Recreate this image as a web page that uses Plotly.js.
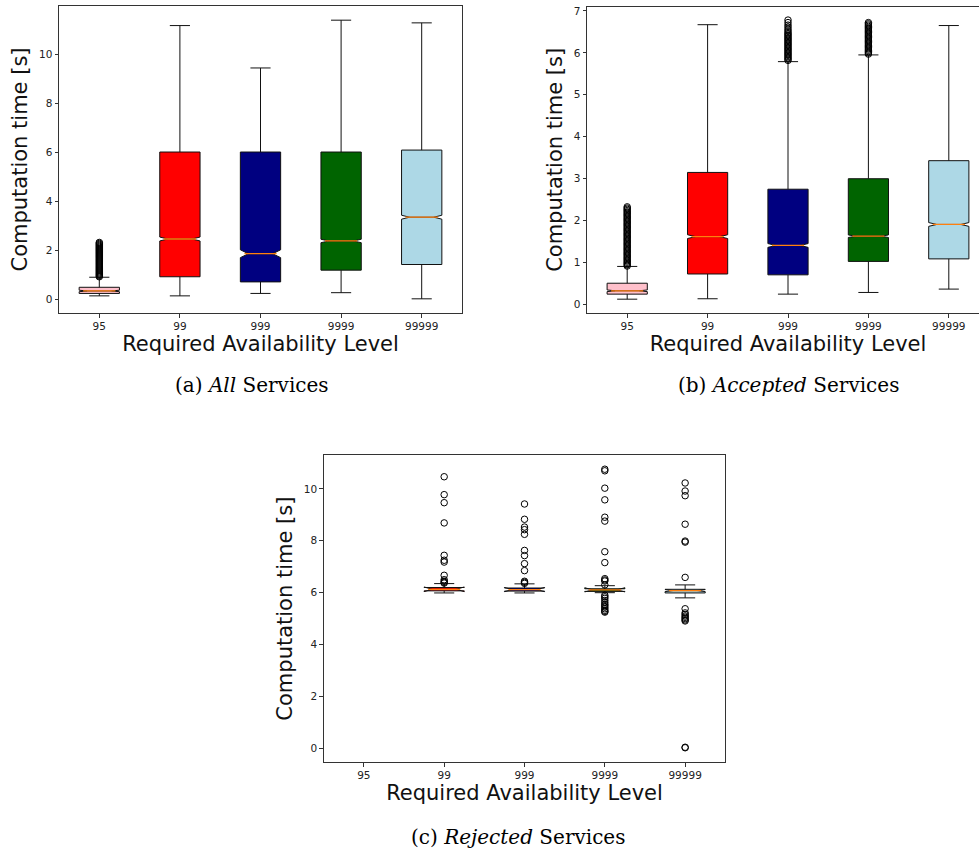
<!DOCTYPE html>
<html><head><meta charset="utf-8">
<script src="https://cdn.plot.ly/plotly-3.0.1.min.js"></script>
<style>html,body{margin:0;padding:0;overflow:hidden;background:#fff;} #chart{width:1000px;height:852px;}</style>
</head><body><div id="chart"></div><script>
// ---- categories ----
const levels = ['95', '99', '999', '9999', '99999'];
const boxColors = ['pink', 'red', 'navy', 'darkgreen', 'lightblue'];

// ---- (a) All services ----
const allLowerFence = [0.15, 0.15, 0.25, 0.28, 0.03];
const allQ1         = [0.25, 0.93, 0.72, 1.20, 1.43];
const allMedian     = [0.35, 2.47, 1.87, 2.39, 3.36];
const allQ3         = [0.50, 6.02, 6.02, 6.02, 6.10];
const allUpperFence = [0.91, 11.18, 9.45, 11.40, 11.29];
const allNotch      = [0.03, 0.08, 0.16, 0.07, 0.08];
const allOut95 = [0.93,0.97,1.01,1.05,1.09,1.13,1.17,1.21,1.25,1.29,1.33,1.37,1.41,1.45,1.49,1.53,1.57,1.61,1.65,1.69,1.73,1.77,1.81,1.85,1.89,1.93,1.97,2.01,2.05,2.09,2.13,2.17,2.21,2.25,2.29,2.33];

// ---- (b) Accepted services ----
const accLowerFence = [0.13, 0.14, 0.25, 0.29, 0.37];
const accQ1         = [0.25, 0.73, 0.71, 1.03, 1.09];
const accMedian     = [0.33, 1.62, 1.41, 1.63, 1.91];
const accQ3         = [0.51, 3.15, 2.75, 3.00, 3.43];
const accUpperFence = [0.91, 6.67, 5.79, 5.95, 6.65];
const accNotch      = [0.02, 0.045, 0.045, 0.03, 0.045];
const accOut95 = [0.92,0.95,0.98,1.01,1.04,1.07,1.10,1.13,1.16,1.19,1.22,1.25,1.28,1.31,1.34,1.37,1.40,1.43,1.46,1.49,1.52,1.55,1.58,1.61,1.64,1.67,1.70,1.73,1.76,1.79,1.82,1.85,1.88,1.91,1.94,1.97,2.00,2.03,2.06,2.09,2.12,2.15,2.18,2.21,2.24,2.27,2.30,2.33];
const accOut999 = [5.82,5.85,5.88,5.91,5.94,5.97,6.00,6.03,6.06,6.09,6.12,6.15,6.18,6.21,6.24,6.27,6.30,6.33,6.36,6.39,6.42,6.45,6.48,6.52,6.56,6.61,6.66,6.72,6.78];
const accOut9999 = [5.97,6.00,6.03,6.06,6.09,6.12,6.15,6.18,6.21,6.24,6.27,6.30,6.33,6.36,6.39,6.42,6.45,6.48,6.51,6.54,6.57,6.60,6.63,6.66,6.69,6.72];

// ---- (c) Rejected services (no 95 data) ----
const rejLevels     = ['99', '999', '9999', '99999'];
const rejColors     = ['red', 'navy', 'darkgreen', 'lightblue'];
const rejLowerFence = [5.99, 5.99, 6.00, 5.80];
const rejQ1         = [6.07, 6.06, 6.05, 5.99];
const rejMedian     = [6.13, 6.12, 6.11, 6.08];
const rejQ3         = [6.20, 6.18, 6.15, 6.13];
const rejUpperFence = [6.35, 6.34, 6.27, 6.30];
const rejNotch      = [0.09, 0.08, 0.08, 0.04];
const rejOut99 = [10.47, 9.78, 9.47, 8.69, 7.44, 7.25, 7.18, 6.67, 6.50, 6.44, 6.40, 6.37];
const rejOut999 = [9.42, 8.83, 8.53, 8.43, 8.25, 7.63, 7.43, 7.12, 6.85, 6.44, 6.40, 6.36];
const rejOut9999 = [10.76, 10.70, 10.03, 9.58, 8.91, 8.76, 7.58, 7.16, 6.54, 6.49, 6.45, 6.30, 5.90, 5.84, 5.78, 5.70, 5.62, 5.55, 5.50, 5.44, 5.38, 5.32, 5.28, 5.25];
const rejOut99999 = [10.23, 9.92, 9.74, 8.64, 7.99, 7.95, 6.59, 5.38, 5.22, 5.16, 5.10, 5.05, 5.00, 4.95, 4.91, 0.04, 0.02];

// ---- text ----
const yTitle = 'Computation time [s]';
const xTitle = 'Required Availability Level';
const captions = ['(a) <i>All</i> Services', '(b) <i>Accepted</i> Services', '(c) <i>Rejected</i> Services'];

const BOXW = 0.5, NOTCHW = 0.2, ORANGE = '#ff7f0e';
const traces = [];

function addBoxes(xa, ya, cats, cols, lf, q1, med, q3, uf, notch) {
  cats.forEach((c, i) => {
    traces.push({
      type: 'box', xaxis: xa, yaxis: ya, x: [c],
      lowerfence: [lf[i]], q1: [q1[i]], median: [med[i]], q3: [q3[i]], upperfence: [uf[i]],
      notched: true, notchspan: [notch[i]], notchwidth: NOTCHW,
      width: BOXW, whiskerwidth: 0.5,
      fillcolor: cols[i], line: {color: '#111', width: 1},
      boxpoints: false, showlegend: false, hoverinfo: 'skip'
    });
    // orange median line
    traces.push({
      type: 'box', xaxis: xa, yaxis: ya, x: [c],
      lowerfence: [med[i]], q1: [med[i]], median: [med[i]], q3: [med[i]], upperfence: [med[i]],
      width: BOXW * (1 - NOTCHW), whiskerwidth: 0,
      fillcolor: 'rgba(0,0,0,0)', line: {color: ORANGE, width: 1.3},
      boxpoints: false, showlegend: false, hoverinfo: 'skip'
    });
  });
}
function addFliers(xa, ya, cat, vals) {
  traces.push({
    type: 'scatter', mode: 'markers', xaxis: xa, yaxis: ya,
    x: vals.map(() => cat), y: vals,
    marker: {symbol: 'circle-open', size: 6.5, color: '#000', line: {width: 1}},
    showlegend: false, hoverinfo: 'skip', cliponaxis: false
  });
}

addBoxes('x', 'y', levels, boxColors, allLowerFence, allQ1, allMedian, allQ3, allUpperFence, allNotch);
addFliers('x', 'y', '95', allOut95);

addBoxes('x2', 'y2', levels, boxColors, accLowerFence, accQ1, accMedian, accQ3, accUpperFence, accNotch);
addFliers('x2', 'y2', '95', accOut95);
addFliers('x2', 'y2', '999', accOut999);
addFliers('x2', 'y2', '9999', accOut9999);

addBoxes('x3', 'y3', rejLevels, rejColors, rejLowerFence, rejQ1, rejMedian, rejQ3, rejUpperFence, rejNotch);
addFliers('x3', 'y3', '99', rejOut99);
addFliers('x3', 'y3', '999', rejOut999);
addFliers('x3', 'y3', '9999', rejOut9999);
addFliers('x3', 'y3', '99999', rejOut99999);

const tickFont = {family: 'DejaVu Sans', size: 10.5, color: '#222'};
const titleFont = {family: 'DejaVu Sans', size: 21, color: '#111'};
function xAxis(domain, anchor) {
  return {
    domain: domain, anchor: anchor, type: 'category',
    categoryorder: 'array', categoryarray: levels, range: [-0.5, 4.5],
    showline: true, mirror: true, linecolor: '#333', linewidth: 1,
    ticks: 'outside', ticklen: 3.5, tickcolor: '#333', tickfont: tickFont,
    showgrid: false, zeroline: false, fixedrange: true,
    title: {text: xTitle, font: titleFont, standoff: 4}
  };
}
function yAxis(domain, anchor, range, tickvals) {
  return {
    domain: domain, anchor: anchor, range: range, tickvals: tickvals,
    showline: true, mirror: true, linecolor: '#333', linewidth: 1,
    ticks: 'outside', ticklen: 3.5, tickcolor: '#333', tickfont: tickFont,
    showgrid: false, zeroline: false, fixedrange: true,
    title: {text: yTitle, font: titleFont, standoff: 5}
  };
}

const capFont = {family: 'DejaVu Serif', size: 20, color: '#000'};
const layout = {
  width: 1000, height: 852,
  margin: {l: 0, r: 0, t: 0, b: 0},
  paper_bgcolor: '#fff', plot_bgcolor: '#fff',
  boxmode: 'overlay', showlegend: false,
  xaxis:  xAxis([0.059, 0.462], 'y'),
  yaxis:  yAxis([0.6326, 0.9930], 'x', [-0.55, 11.98], [0, 2, 4, 6, 8, 10]),
  xaxis2: xAxis([0.587, 0.989], 'y2'),
  yaxis2: yAxis([0.6326, 0.9922], 'x2', [-0.2, 7.1], [0, 1, 2, 3, 4, 5, 6, 7]),
  xaxis3: xAxis([0.3237, 0.7253], 'y3'),
  yaxis3: yAxis([0.1053, 0.4660], 'x3', [-0.54, 11.31], [0, 2, 4, 6, 8, 10]),
  annotations: [
    {text: captions[0], xref: 'paper', yref: 'paper', x: 0.252, y: 1 - 385/852, xanchor: 'center', yanchor: 'middle', showarrow: false, font: capFont},
    {text: captions[1], xref: 'paper', yref: 'paper', x: 0.788, y: 1 - 385/852, xanchor: 'center', yanchor: 'middle', showarrow: false, font: capFont},
    {text: captions[2], xref: 'paper', yref: 'paper', x: 0.5175, y: 1 - 837/852, xanchor: 'center', yanchor: 'middle', showarrow: false, font: capFont}
  ]
};
Plotly.newPlot('chart', traces, layout, {displayModeBar: false, staticPlot: true});
</script></body></html>
